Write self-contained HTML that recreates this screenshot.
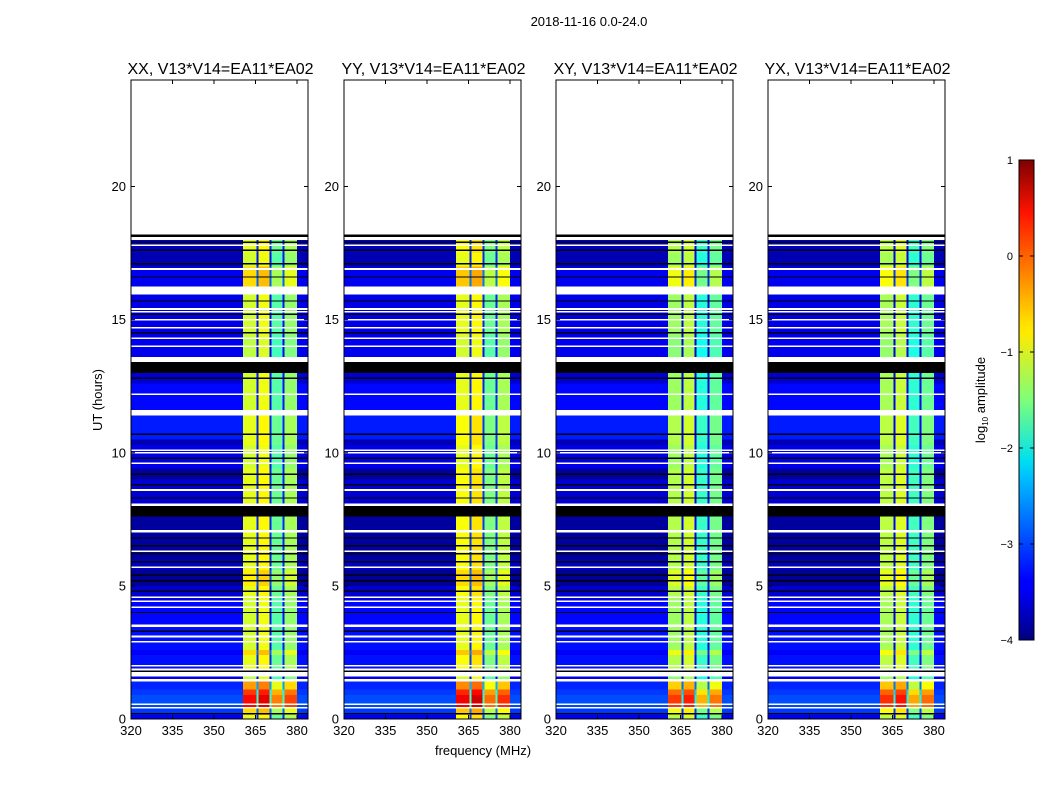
<!DOCTYPE html>
<html><head><meta charset="utf-8">
<style>
body{margin:0;background:#fff;width:1050px;height:800px;overflow:hidden;font-family:"Liberation Sans",sans-serif}
svg text{font-family:"Liberation Sans","DejaVu Sans",sans-serif}
</style></head>
<body>
<svg id="c" width="1050" height="800" xmlns="http://www.w3.org/2000/svg">
<defs>
<linearGradient id="jet" x1="0" y1="1" x2="0" y2="0">
<stop offset="0" stop-color="#00007f"/><stop offset="0.11" stop-color="#0000ff"/>
<stop offset="0.125" stop-color="#0000ff"/><stop offset="0.34" stop-color="#00c0ff"/>
<stop offset="0.375" stop-color="#00e0f0"/><stop offset="0.5" stop-color="#7dff7a"/>
<stop offset="0.64" stop-color="#ffea00"/><stop offset="0.66" stop-color="#ffe000"/>
<stop offset="0.89" stop-color="#ff1300"/><stop offset="1" stop-color="#7f0000"/>
</linearGradient>
</defs>
<text x="589" y="26" font-size="13" text-anchor="middle">2018-11-16 0.0-24.0</text>
<text x="483" y="755" font-size="13" text-anchor="middle">frequency (MHz)</text>
<text x="102" y="400" font-size="13" text-anchor="middle" transform="rotate(-90 102 400)">UT (hours)</text>
<g id="panels"></g>
<g>
<rect x="1019" y="160" width="15" height="480" fill="url(#jet)" stroke="#000" stroke-width="1"/>
<g id="cbticks"></g>
<text x="985" y="400" font-size="13" text-anchor="middle" transform="rotate(-90 985 400)">log<tspan font-size="8" dy="3">10</tspan><tspan dy="-3"> amplitude</tspan></text>
</g>
</svg>
<script>
const panelTitles=["XX, V13*V14=EA11*EA02","YY, V13*V14=EA11*EA02","XY, V13*V14=EA11*EA02","YX, V13*V14=EA11*EA02"];
const panelBandOffset=[0,0.1,-0.25,-0.2];
const xTicks=[320,335,350,365,380];
const yTicks=[0,5,10,15,20];
const cbTicks=[1,0,-1,-2,-3,-4];
const segStart=[0,0.15,0.4,0.45,0.9,1.1,1.4,1.5,1.6,1.9,2.4,2.6,3.45,3.55,4.4,4.45,4.55,4.6,5.0,5.6,6.0,7.0,7.1,7.6,8.0,8.1,9.0,9.4,10.3,10.5,11.4,11.6,12.6,13.0,13.4,13.6,14.4,15.5,15.95,16.25,17.0,17.5,18.0,18.1];
const segEnd  =[0.15,0.4,0.45,0.9,1.1,1.4,1.5,1.6,1.9,2.4,2.6,3.45,3.55,4.4,4.45,4.55,4.6,5.0,5.6,6.0,7.0,7.1,7.6,8.0,8.1,9.0,9.4,10.3,10.5,11.4,11.6,12.6,13.0,13.4,13.6,14.4,15.5,15.95,16.25,17.0,17.5,18.0,18.1,18.2];
const segBg   =[-3.4,-3.1,null,-3.0,-3.1,-3.2,null,-3.5,null,-3.3,-3.4,-3.3,null,-3.35,null,-3.5,null,-3.6,-3.9,-3.7,-3.85,null,-3.85,-9,null,-3.6,-3.85,-3.5,-3.75,-3.25,null,-3.35,-3.6,-9,null,-3.45,-3.5,-3.5,null,-3.45,-3.75,-3.7,null,-9];
const segBand =[-1.0,-0.7,null,0.35,0.1,-0.4,null,-1.2,null,-1.0,-0.7,-1.1,null,-1.1,null,-1.1,null,-1.0,-0.8,-1.0,-1.0,null,-1.0,-9,null,-1.0,-1.0,-1.1,-1.0,-1.0,null,-1.1,-1.1,-9,null,-1.2,-1.1,-1.1,null,-0.7,-1.1,-1.0,null,-9];
const whiteLines=[0.55,2.0,2.9,3.1,4.2,5.7,6.3,8.6,9.6,10.0,10.1,12.2,14.0,14.3,14.7,15.0,15.3,15.4,16.9,17.8];
const blackLines=[0.2,1.8,3.3,4.0,4.8,5.2,5.4,5.9,6.2,6.5,6.8,8.3,8.8,9.2,9.8,10.7,12.8,14.5,15.2,15.7,16.6,17.1,17.6,17.9];
const colStart=[360.5,365.3,366.0,370.0,370.7,374.8,375.5,380.0];
const colEnd  =[365.3,366.0,370.0,370.7,374.8,375.5,380.0,384.0];
const colOff  =[0,-2.2,0.15,-2.2,-0.6,-2.2,-0.3,null];
{
function jet(v){
  if(v<=-8) return "#000";
  let t=(v+4)/5; t=Math.max(0,Math.min(1,t));
  const f=(x)=>Math.max(0,Math.min(1,x));
  const r=f(1.5-Math.abs(4*t-3)), g=f(1.5-Math.abs(4*t-2)), b=f(1.5-Math.abs(4*t-1));
  return "rgb("+Math.round(r*255)+","+Math.round(g*255)+","+Math.round(b*255)+")";
}
const NS="http://www.w3.org/2000/svg";
function mk(tag,attrs,parent){const e=document.createElementNS(NS,tag);for(const k in attrs)e.setAttribute(k,attrs[k]);parent.appendChild(e);return e;}
const panelX=[131,344,556,768], pw=177, yTop=80, yBot=719;
const yS=h=>yBot-(h/24)*(yBot-yTop);
const root=document.getElementById('panels');
panelX.forEach((x0,p)=>{
  const xS=f=>x0+(f-320)*(166/60);
  const g=mk('g',{},root);
  
  
  const t=mk('text',{x:x0+pw/2+1,y:74,'font-size':16,'text-anchor':'middle'},g);
  t.textContent=panelTitles[p];
  
  
  const cells=mk('g',{'shape-rendering':'crispEdges'},g);
  
  
  for(let i=0;i<segStart.length;i++){
    if(segBg[i]===null) continue;
    const y1=yS(segEnd[i]), y2=yS(segStart[i]);
    const r=mk('rect',{x:x0,y:y1,width:pw,height:y2-y1,fill:jet(segBg[i])},cells);
    
    
    if(segBg[i]<=-8) continue;
    for(let c=0;c<colStart.length;c++){
      if(colOff[c]===null) continue;
      const v=segBand[i]+colOff[c]+panelBandOffset[p];
      const cr=mk('rect',{x:xS(colStart[c]),y:y1,width:xS(colEnd[c])-xS(colStart[c]),height:y2-y1,fill:jet(v)},cells);
      
      
    }
  }
  blackLines.forEach(h=>{const l=mk('rect',{x:x0,y:yS(h)-0.7,width:pw,height:1.4,fill:'#000010'},cells);
    
    });
  whiteLines.forEach(h=>{const l=mk('rect',{x:x0,y:yS(h)-0.8,width:pw,height:1.6,fill:'#fff'},cells);
    
    });
  const fr=mk('rect',{x:x0,y:yTop,width:pw,height:yBot-yTop,fill:'none',stroke:'#000','stroke-width':1},g);
  
  
  xTicks.forEach(v=>{const xx=xS(v);
    mk('line',{x1:xx,y1:yBot,x2:xx,y2:yBot-4,stroke:'#000'},g);
    mk('line',{x1:xx,y1:yTop,x2:xx,y2:yTop+4,stroke:'#000'},g);
    const tl=mk('text',{x:xx,y:yBot+16,'font-size':13,'text-anchor':'middle'},g);tl.textContent=v;
    
    });
  yTicks.forEach(v=>{const yy=yS(v);
    mk('line',{x1:x0,y1:yy,x2:x0+4,y2:yy,stroke:'#000'},g);
    mk('line',{x1:x0+pw,y1:yy,x2:x0+pw-4,y2:yy,stroke:'#000'},g);
    const tl=mk('text',{x:x0-5,y:yy+4.5,'font-size':13,'text-anchor':'end'},g);tl.textContent=v;
    
    });
});
const cb=document.getElementById('cbticks');
cbTicks.forEach(v=>{const yy=640-(v+4)/5*480;
  mk('line',{x1:1019,y1:yy,x2:1023,y2:yy,stroke:'#000'},cb);
  mk('line',{x1:1034,y1:yy,x2:1030,y2:yy,stroke:'#000'},cb);
  const tl=mk('text',{x:1013,y:yy+4,'font-size':11,'text-anchor':'end'},cb);
  tl.textContent=v<0?'\u2212'+(-v):String(v);
  
  });
}
</script>
</body></html>
